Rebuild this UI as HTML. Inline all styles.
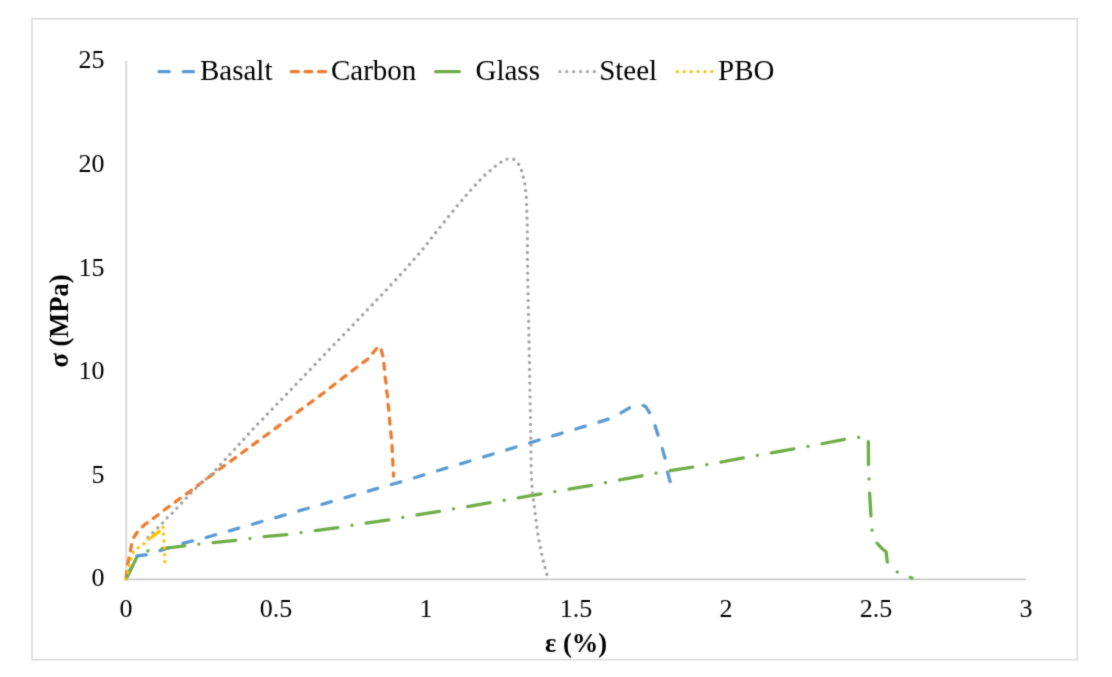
<!DOCTYPE html>
<html><head><meta charset="utf-8">
<style>
html,body{margin:0;padding:0;background:#fff;width:1112px;height:677px;overflow:hidden}
svg{display:block}
text{font-family:"Liberation Serif",serif;fill:#000}
.t{font-size:26px}
.b{font-size:26.5px;font-weight:bold}
.l{font-size:29px}
.s{fill:none;stroke-width:3.3;stroke-linecap:round;stroke-linejoin:round}
</style></head><body>
<svg width="1112" height="677" viewBox="0 0 1112 677">
<defs><filter id="bl" filterUnits="userSpaceOnUse" x="0" y="0" width="1112" height="677" color-interpolation-filters="sRGB"><feConvolveMatrix order="3" kernelMatrix="0.0192 0.1001 0.0192 0.1001 0.5228 0.1001 0.0192 0.1001 0.0192" divisor="1" edgeMode="duplicate"/></filter></defs>
<g filter="url(#bl)">
<rect x="32" y="18.8" width="1045.4" height="640.9" fill="#fff" stroke="#d9d9d9" stroke-width="1.5"/>
<!-- axes -->
<line x1="126.2" y1="60.8" x2="126.2" y2="579" stroke="#dcdcdc" stroke-width="2.2"/>
<line x1="125.1" y1="579.3" x2="1026" y2="579.3" stroke="#c9c9c9" stroke-width="1.7"/>
<!-- y tick labels -->
<g class="t" text-anchor="end">
<text x="104.5" y="586.45">0</text>
<text x="104.5" y="482.85">5</text>
<text x="104.5" y="379.25">10</text>
<text x="104.5" y="275.65">15</text>
<text x="104.5" y="172.05">20</text>
<text x="104.5" y="68.45">25</text>
</g>
<!-- x tick labels -->
<g class="t" text-anchor="middle">
<text x="126" y="617">0</text>
<text x="276" y="617">0.5</text>
<text x="426" y="617">1</text>
<text x="576" y="617">1.5</text>
<text x="726" y="617">2</text>
<text x="876" y="617">2.5</text>
<text x="1026" y="617">3</text>
</g>
<text class="b" x="576" y="651.5" text-anchor="middle">ε (%)</text>
<text class="b" transform="translate(67.8,321) rotate(-90)" text-anchor="middle">σ (MPa)</text>


<polyline class="s" stroke="#5b9bd5" stroke-width="3.05" stroke-dasharray="9.8 14.275" stroke-dashoffset="23.056" points="126,579 131,568 137,556 140,555.5 147,554.8 152,553 160,550.6 183,543.3 205.8,537.6 228.5,531.1 367,491.4 402,481.5 440,470 482.5,457.2 528.6,443.2 574.8,429.3 597.6,422.5 609,418.9 620,413.5 630,407.5 636,405.5 642.4,405 646,407 649.8,413.2 655,425.5 658.2,435.8 662.1,447.9 665.3,459.1 667.5,472 670.5,483"/>
<polyline class="s" stroke="#ed7d31" stroke-dasharray="6.0 7.746" stroke-dashoffset="12.475" points="126,579 127.2,567 129,558 130.6,550 132,542 134,537 137,532.5 140.5,528.5 144.5,524.8 150,520.5 155.6,516.75 161.5,512.2 167.45,507.6 178.15,499.9 189.25,491.9 213.6,473.6 244.4,451.1 284.6,421.6 320,395.6 361.8,363.4 368,358.9 371.8,354.2 377.1,348 379.3,346.3 381,348.9 383,356.5 383.8,363 384.6,370.7 385,376.6 386.2,384.3 386.6,390.2 387.8,397.9 388.1,403.8 389,411.5 389.3,416.8 391.9,443.4 393.5,476"/>
<polyline class="s" stroke="#70ad47" stroke-dasharray="22.8 14.312 0.01 14.302" stroke-dashoffset="51.176" points="126,579 131.5,568 137,557 140,554 147.3,551 160.6,548.7 185.5,545.7 211.7,542.7 236.2,540.3 262.7,536.8 287.7,534.5 314,530.7 339,527.5 365,523.3 390,519.7 415.6,515.1 440.8,511.1 591.5,485.3 618.8,480.1 643.9,475.4 668.3,470.9 695,466.7 821.3,443.9 847.1,438.8 859.6,437.2 866,436 868.3,438 868.5,465.2 869,478.5 869.5,491.6 871,516.7 872,530 875,541 881.6,548.2 886,551.5 887.5,563 892,568 900,574 912,578"/>
<polyline class="s" stroke="#a5a5a5" stroke-dasharray="0.01 6.868" stroke-dashoffset="2.142" points="144.6,540.9 148.4,537.1 152.9,532.7 157.9,527.7 162.3,523.3 167.3,517.7 172.2,513.1 176.6,508.4 191,493 201,483.2 211.3,474.8 253.2,428.9 257.7,424.1 305.6,374.5 328.2,350.6 348.9,329.3 367.2,309.9 386.4,289.9 404.7,270.1 422.9,249 440.2,226.9 448.5,216.6 457.2,205.9 466,195.5 475.4,185 484.8,175.1 495.3,166.2 501,162.2 506.8,159.1 513.5,159.1 518.5,163.9 521.5,170.5 523.3,177.2 524.7,183.4 525.6,190.5 526.3,197.6 526.8,210.9 527.4,232.1 527.4,258.7 530.6,423.8 531.3,478.9 532.6,492.7 535.1,512.7 537.6,532.8 540.1,546.6 543.1,560.4 546.6,573.4 548,578.5"/>
<polyline class="s" stroke="#ffc000" stroke-linecap="square" stroke-width="3.2" stroke-dasharray="0.01 6.89" points="126,579 127.7,572.2 129.3,565.3 131.1,558.9 133.2,552 138.5,547.7 144,543.6 148.9,539 151.5,537.4"/>
<polyline class="s" stroke="#ffc000" stroke-width="3.4" points="151.5,537.4 155,534.8 159.3,531.4"/>
<polyline class="s" stroke="#ffc000" stroke-linecap="square" stroke-width="3.2" stroke-dasharray="0.01 6.85" points="162.9,527.3 163.6,533.9 164,540.9 164.3,547.5 164.6,554.6 164.8,561.4 164.9,563"/>

<!-- legend -->
<line class="s" x1="159" y1="71.7" x2="193.5" y2="71.7" stroke="#5b9bd5" stroke-dasharray="10.2 14.1"/>
<text class="l" x="200" y="80">Basalt</text>
<line class="s" x1="291.35" y1="71.7" x2="325.55" y2="71.7" stroke="#ed7d31" stroke-dasharray="7 6.6"/>
<text class="l" x="331" y="80">Carbon</text>
<line class="s" x1="435.65" y1="71.7" x2="459.35" y2="71.7" stroke="#70ad47"/>
<text class="l" x="475.5" y="80">Glass</text>
<line x1="558.5" y1="71.7" x2="595.7" y2="71.7" stroke="#a5a5a5" stroke-width="2.7" stroke-dasharray="2.8 4.08"/>
<text class="l" x="599.2" y="80">Steel</text>
<line x1="676" y1="71.7" x2="713.2" y2="71.7" stroke="#ffc000" stroke-width="2.7" stroke-dasharray="2.8 4.08"/>
<text class="l" x="718" y="80">PBO</text>
</g>
</svg>
</body></html>
